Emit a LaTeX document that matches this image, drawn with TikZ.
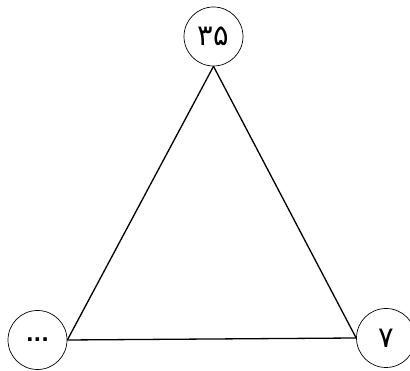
\documentclass[tikz,border=0pt]{standalone}
\usepackage{fontspec}
\newfontfamily\arabicfont[Script=Arabic]{DejaVu Sans}
\usepackage{tikz}
\usetikzlibrary{positioning}
\tikzset{
  vertex/.style={
    circle, draw=black, line width=0.7pt,
    minimum size=59pt, inner sep=0pt,
    font=\arabicfont\fontsize{29}{32}\selectfont
  },
  side/.style={line width=1.3pt, black}
}

\begin{document}
\begin{tikzpicture}[x=1pt, y=1pt]

  \useasboundingbox (0,0) rectangle (410,371);

  \node[vertex] (top)   at (213.5,334.5) {۳۵};
  \node[vertex] (left)  at (37.5,31)     {\bfseries\fontsize{20}{22}\selectfont ...};
  \node[vertex] (right) at (386,33)      {۷};

  \draw[side] (top.south) -- (right.west);
  \draw[side] (right.west) -- (left.east);
  \draw[side] (left.east) -- (top.south);

\end{tikzpicture}
\end{document}
